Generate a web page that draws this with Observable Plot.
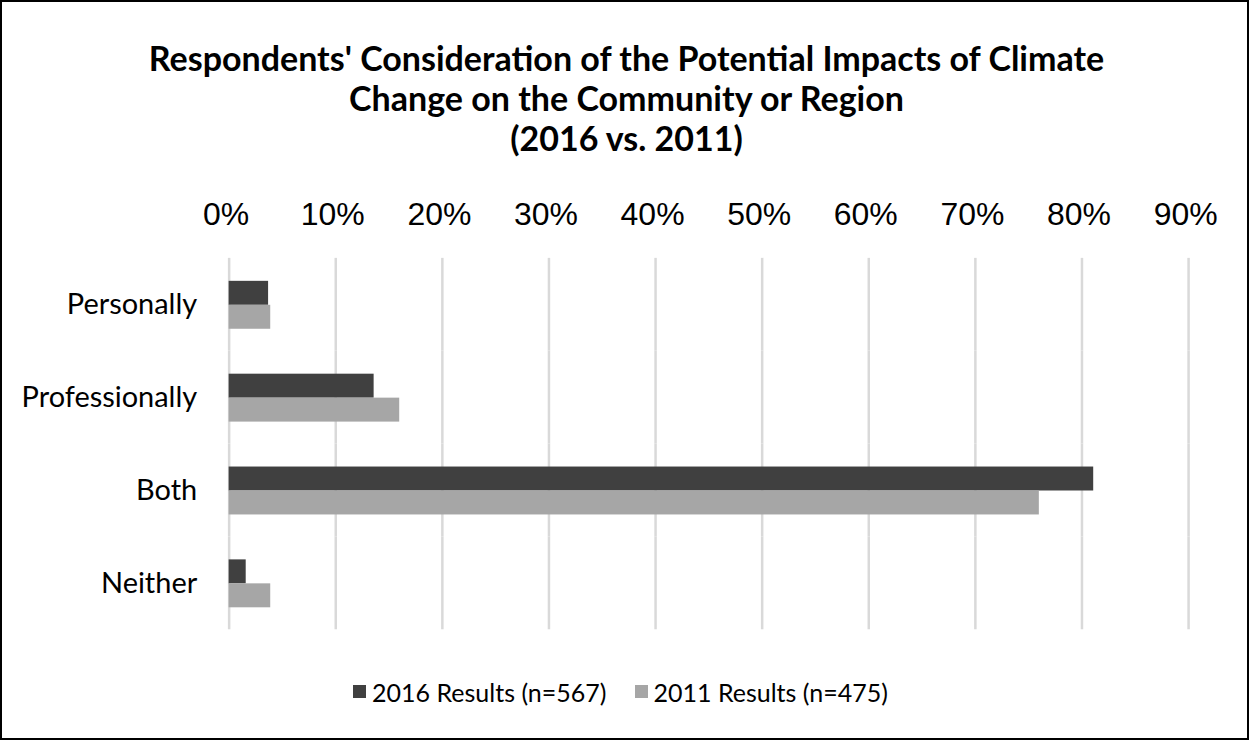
<!DOCTYPE html>
<html>
<head>
<meta charset="utf-8">
<script src="https://cdn.jsdelivr.net/npm/d3@7"></script>
<script src="https://cdn.jsdelivr.net/npm/@observablehq/plot@0.6"></script>
<style>
  html, body { margin: 0; padding: 0; background: #fff; }
  #frame { position: absolute; left: 0; top: 0; width: 1249px; height: 740px; box-sizing: border-box; border: 2px solid #000; background: #fff; overflow: hidden; }
  #title { position: absolute; left: 0; top: 36px; width: 1249px; text-align: center; font-family: Lato, "Open Sans", sans-serif; font-weight: 700; font-size: 34px; line-height: 40px; color: #000; }
  #chart { position: absolute; left: -2px; top: 178px; }
  #legend { position: absolute; left: -6px; top: 671px; width: 1249px; text-align: center; font-family: Lato, "Open Sans", sans-serif; font-size: 25px; color: #000; }
  .item { display: inline-flex; align-items: center; margin: 0 14px; }
  .sw { display: inline-block; width: 13px; height: 13px; margin-right: 6px; }
</style>
</head>
<body>
<div id="frame">
  <div id="title">Respondents' Consideration of the Potential Impacts of Climate<br>Change on the Community or Region<br>(2016 vs. 2011)</div>
  <div id="chart"></div>
  <div id="legend"></div>
</div>
<script>
const categories = ["Personally", "Professionally", "Both", "Neither"];
const seriesNames = ["2016 Results (n=567)", "2011 Results (n=475)"];
const values2016 = [0.037, 0.136, 0.811, 0.016];
const values2011 = [0.039, 0.160, 0.760, 0.039];
const seriesColors = ["#404040", "#a6a6a6"];
const xTicks = [0, 0.1, 0.2, 0.3, 0.4, 0.5, 0.6, 0.7, 0.8, 0.9];

const data = [];
categories.forEach((c, i) => {
  data.push({category: c, series: seriesNames[0], value: values2016[i]});
  data.push({category: c, series: seriesNames[1], value: values2011[i]});
});

const plot = Plot.plot({
  width: 1249,
  height: 470,
  marginTop: 78,
  marginBottom: 20,
  marginLeft: 229,
  marginRight: 59,
  style: {fontFamily: "Lato, 'Open Sans', sans-serif", background: "transparent"},
  x: {domain: [0, 0.9], ticks: xTicks, tickFormat: d3.format(".0%"), axis: null},
  y: {domain: seriesNames, paddingInner: 0, paddingOuter: 0.9, axis: null},
  fy: {domain: categories, padding: 0, label: null},
  color: {domain: seriesNames, range: seriesColors},
  marks: [
    Plot.ruleX(xTicks, {x: d => d, stroke: "#d9d9d9", strokeWidth: 2.5}),
    Plot.axisX({anchor: "top", ticks: xTicks, tickFormat: d3.format(".0%"), tickSize: 0, tickPadding: 33, fontSize: 32, fontFamily: "'Liberation Sans', Arial, sans-serif", label: null, facetAnchor: "top", fill: "#000", dx: -3}),
    Plot.axisFy({anchor: "left", tickSize: 0, tickPadding: 32, fontSize: 29, label: null, fill: "#000"}),
    Plot.barX(data, {x: "value", y: "series", fy: "category", fill: "series"})
  ]
});
document.getElementById("chart").appendChild(plot);

const legend = document.getElementById("legend");
seriesNames.forEach((s, i) => {
  const item = document.createElement("span");
  item.className = "item";
  const sw = document.createElement("span");
  sw.className = "sw";
  sw.style.background = seriesColors[i];
  item.appendChild(sw);
  item.appendChild(document.createTextNode(s));
  legend.appendChild(item);
});
</script>
</body>
</html>
